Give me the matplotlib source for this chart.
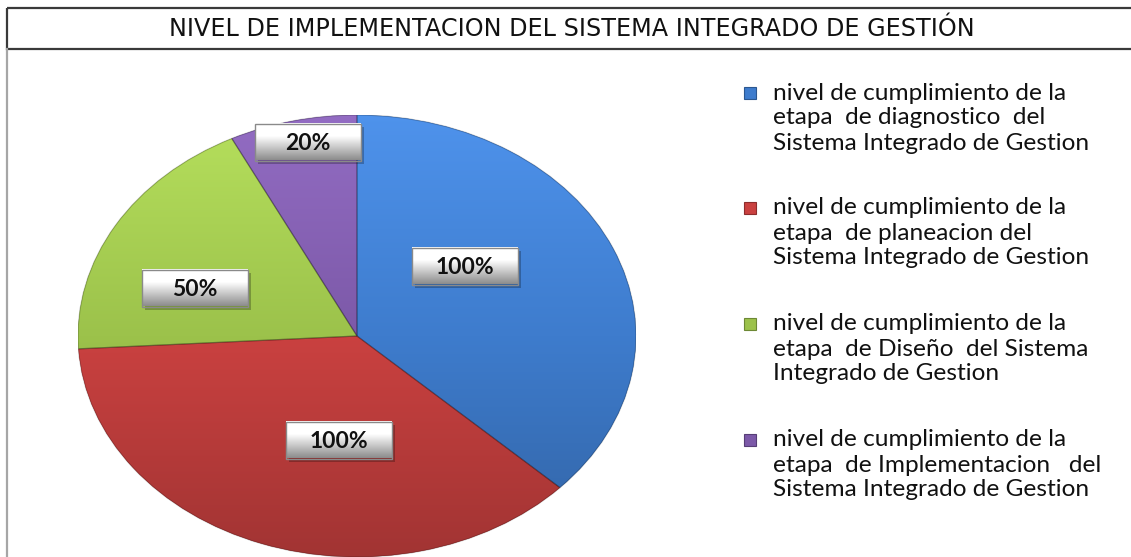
import matplotlib
matplotlib.use("Agg")
import matplotlib.pyplot as plt
import numpy as np
from matplotlib.patches import Rectangle, Wedge
from matplotlib.colors import to_rgb, LinearSegmentedColormap

# ---------------- data ----------------
title = "NIVEL DE IMPLEMENTACION DEL SISTEMA INTEGRADO DE GESTIÓN"
categories = [
    "nivel de cumplimiento de la\netapa  de diagnostico  del\nSistema Integrado de Gestion",
    "nivel de cumplimiento de la\netapa  de planeacion del\nSistema Integrado de Gestion",
    "nivel de cumplimiento de la\netapa  de Diseño  del Sistema\nIntegrado de Gestion",
    "nivel de cumplimiento de la\netapa  de Implementacion   del\nSistema Integrado de Gestion",
]
values = [100, 100, 50, 20]
value_labels = [f"{v}%" for v in values]

# ---------------- style ----------------
colors = ["#3E7CCD", "#CA4140", "#9CC24B", "#7C59A8"]
W, H = 1131, 557
pie_cx, pie_cy, pie_rx, pie_ry = 357, 336, 279, 221
label_pos = [(465, 266), (339, 440), (195, 288), (308, 142)]   # pixel centres of value boxes
box_w, box_h = 106, 37
legend_x_marker, legend_x_text = 750, 773
legend_first_y = [93, 208, 324, 440]
line_gap = 25

fig = plt.figure(figsize=(W / 100, H / 100), dpi=100)
fig.patch.set_facecolor("white")

# background overlay (frame)
bg = fig.add_axes([0, 0, 1, 1], zorder=0)
bg.set_xlim(0, W); bg.set_ylim(H, 0); bg.axis("off")
bg.add_patch(Rectangle((7, 8), W + 10, 41, fill=False, edgecolor="#3a3a3a", lw=1.6))
bg.plot([7, 7], [49, H], color="#a6a6a6", lw=1.6)
ttl = bg.text(572, 29.5, title, ha="center", va="center", fontsize=15, color="#111111",
              family="DejaVu Sans")

# pie axes
pax = fig.add_axes([(pie_cx - pie_rx) / W, (H - pie_cy - pie_ry) / H,
                    2 * pie_rx / W, 2 * pie_ry / H], zorder=1)
pax.patch.set_alpha(0)
wedges, _ = pax.pie(values, colors=colors, startangle=90, counterclock=False,
                    radius=1, wedgeprops=dict(linewidth=0))
grad = np.linspace(0, 1, 256).reshape(-1, 1)
for w, c in zip(wedges, colors):
    rgb = np.array(to_rgb(c))
    light = np.clip(rgb * 1.10 + 0.04, 0, 1)
    dark = rgb * 0.80
    cmap = LinearSegmentedColormap.from_list("g", [dark, rgb, light])
    im = pax.imshow(grad, extent=(-1, 1, -1, 1), origin="lower", aspect="auto",
                    cmap=cmap, zorder=1.5, interpolation="bilinear")
    im.set_clip_path(w)
    pax.add_patch(Wedge(w.center, w.r, w.theta1, w.theta2, fill=False,
                        edgecolor=(0, 0, 0, 0.22), lw=0.9, zorder=2))
pax.set_aspect("auto")
pax.set_xlim(-1, 1); pax.set_ylim(-1, 1)
pax.axis("off")

# top overlay: value boxes + legend
top = fig.add_axes([0, 0, 1, 1], zorder=2)
top.patch.set_alpha(0)
top.set_xlim(0, W); top.set_ylim(H, 0); top.axis("off")
gy = np.linspace(0, 1, 64)
box_grad = np.where(gy < 0.35, 1.0, 1.0 - (gy - 0.35) / 0.65 * 0.45).reshape(-1, 1)
box_rgb = np.repeat(box_grad[:, :, None], 3, axis=2)
for (cx, cy), txt in zip(label_pos, value_labels):
    x0, y0 = cx - box_w / 2, cy - box_h / 2
    top.add_patch(Rectangle((x0 + 3, y0 + 3), box_w, box_h, facecolor=(0, 0, 0, 0.25),
                            edgecolor="none", zorder=1))
    top.imshow(box_rgb, extent=(x0, x0 + box_w, y0 + box_h, y0), origin="upper",
               aspect="auto", zorder=2, interpolation="bilinear")
    top.add_patch(Rectangle((x0, y0), box_w, box_h, fill=False, edgecolor="#8a8a8a",
                            lw=1.0, zorder=3))
    top.text(cx, cy + 1, txt, ha="center", va="center", fontsize=16.5, fontweight="bold",
             color="#111111", family="Lato", zorder=4)

leg_texts = []
for y, lab, c in zip(legend_first_y, categories, colors):
    rgb = np.array(to_rgb(c))
    top.add_patch(Rectangle((legend_x_marker - 6, y - 6), 12, 12, facecolor=c,
                            edgecolor=rgb * 0.7, lw=0.8))
    for k, line in enumerate(lab.split("\n")):
        t = top.text(legend_x_text, y + k * line_gap, line, ha="left", va="center",
                     fontsize=14, color="#111111", family="Lato")
        leg_texts.append(t)
top.set_xlim(0, W); top.set_ylim(H, 0)

# fit font sizes to the reference widths
fig.canvas.draw()
r = fig.canvas.get_renderer()
tw = ttl.get_window_extent(r).width
ttl.set_fontsize(15 * 802 / tw)
lw0 = leg_texts[0].get_window_extent(r).width
for t in leg_texts:
    t.set_fontsize(14 * 294 / lw0)

fig.savefig("out.png", dpi=100, facecolor="white")
